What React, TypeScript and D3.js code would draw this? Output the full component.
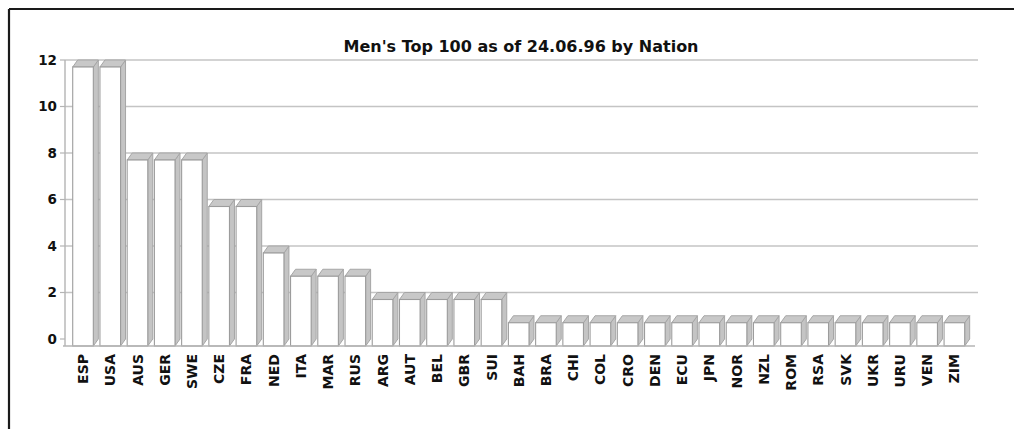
import React from "react";
import * as d3 from "d3";

// Nations and number of players in the men's top 100
const nations = [
  "ESP", "USA", "AUS", "GER", "SWE", "CZE", "FRA", "NED", "ITA", "MAR", "RUS",
  "ARG", "AUT", "BEL", "GBR", "SUI", "BAH", "BRA", "CHI", "COL", "CRO", "DEN",
  "ECU", "JPN", "NOR", "NZL", "ROM", "RSA", "SVK", "UKR", "URU", "VEN", "ZIM",
];
const players = [
  12, 12, 8, 8, 8, 6, 6, 4, 3, 3, 3,
  2, 2, 2, 2, 2, 1, 1, 1, 1, 1, 1,
  1, 1, 1, 1, 1, 1, 1, 1, 1, 1, 1,
];
const yTicks = [0, 2, 4, 6, 8, 10, 12];
const title = "Men's Top 100 as of 24.06.96 by Nation";

const W = 1014;
const H = 429;
const FONT = "'DejaVu Sans', sans-serif";

// back wall (gridlines) and the front of the bars are offset by a depth
const DX = 5;
const DY = 7;

export default function App() {
  const x = d3.scaleBand<string>().domain(nations).range([69.4, 69.4 + nations.length * 27.23]).padding(0);
  const y = d3.scaleLinear().domain([0, 12]).range([339, 60]);
  const faceW = 20.6;
  const gridRight = 978;
  const base = y(0) + DY;

  return (
    <svg width={W} height={H} style={{ position: "absolute", left: 0, top: 0, background: "#fff" }}>
      {/* frame */}
      <line x1={9} y1={9} x2={W} y2={9} stroke="#1a1a1a" strokeWidth={2.2} />
      <line x1={9} y1={9} x2={9} y2={H} stroke="#1a1a1a" strokeWidth={2.2} />

      <text x={521} y={52} textAnchor="middle" fontFamily={FONT} fontWeight={700} fontSize={16} fill="#111">
        {title}
      </text>

      {/* gridlines */}
      {yTicks.filter((t) => t > 0).map((t) => (
        <line key={t} x1={65} x2={gridRight} y1={y(t)} y2={y(t)} stroke="#c4c4c4" strokeWidth={1.6} />
      ))}

      {/* y axis */}
      <line x1={65} x2={65} y1={y(12)} y2={base} stroke="#b4b4b4" strokeWidth={1.4} />
      {yTicks.map((t) => (
        <g key={t}>
          <line x1={60} x2={65} y1={y(t)} y2={y(t)} stroke="#b4b4b4" strokeWidth={1.2} />
          <text x={57} y={y(t)} dy="0.36em" textAnchor="end" fontFamily={FONT} fontWeight={700} fontSize={13.5} fill="#111">
            {t}
          </text>
        </g>
      ))}

      {/* bars */}
      {nations.map((n, i) => {
        const c = (x(n) as number) + x.bandwidth() / 2;
        const fl = c - faceW / 2;
        const fr = c + faceW / 2;
        const ft = y(players[i]) + DY;
        const fb = base;
        const side = `M${fr},${ft} L${fr + DX},${ft - DY} L${fr + DX},${fb - DY} L${fr},${fb} Z`;
        const top = `M${fl},${ft} L${fl + DX},${ft - DY} L${fr + DX},${ft - DY} L${fr},${ft} Z`;
        return (
          <g key={n}>
            <path d={side} fill="#c4c4c4" stroke="#a6a6a6" strokeWidth={1} />
            <path d={top} fill="#c8c8c8" stroke="#a6a6a6" strokeWidth={1} />
            <rect x={fl} y={ft} width={fr - fl} height={fb - ft} fill="#fff" stroke="#9c9c9c" strokeWidth={1.1} />
          </g>
        );
      })}

      {/* baseline */}
      <line x1={63} x2={975} y1={base} y2={base} stroke="#b4b4b4" strokeWidth={1.4} />

      {/* category labels */}
      {nations.map((n) => {
        const c = (x(n) as number) + x.bandwidth() / 2;
        return (
          <text
            key={n}
            transform={`translate(${c},354) rotate(-90)`}
            textAnchor="end"
            dy="0.36em"
            fontFamily={FONT}
            fontWeight={700}
            fontSize={14}
            fill="#111"
          >
            {n}
          </text>
        );
      })}
    </svg>
  );
}
